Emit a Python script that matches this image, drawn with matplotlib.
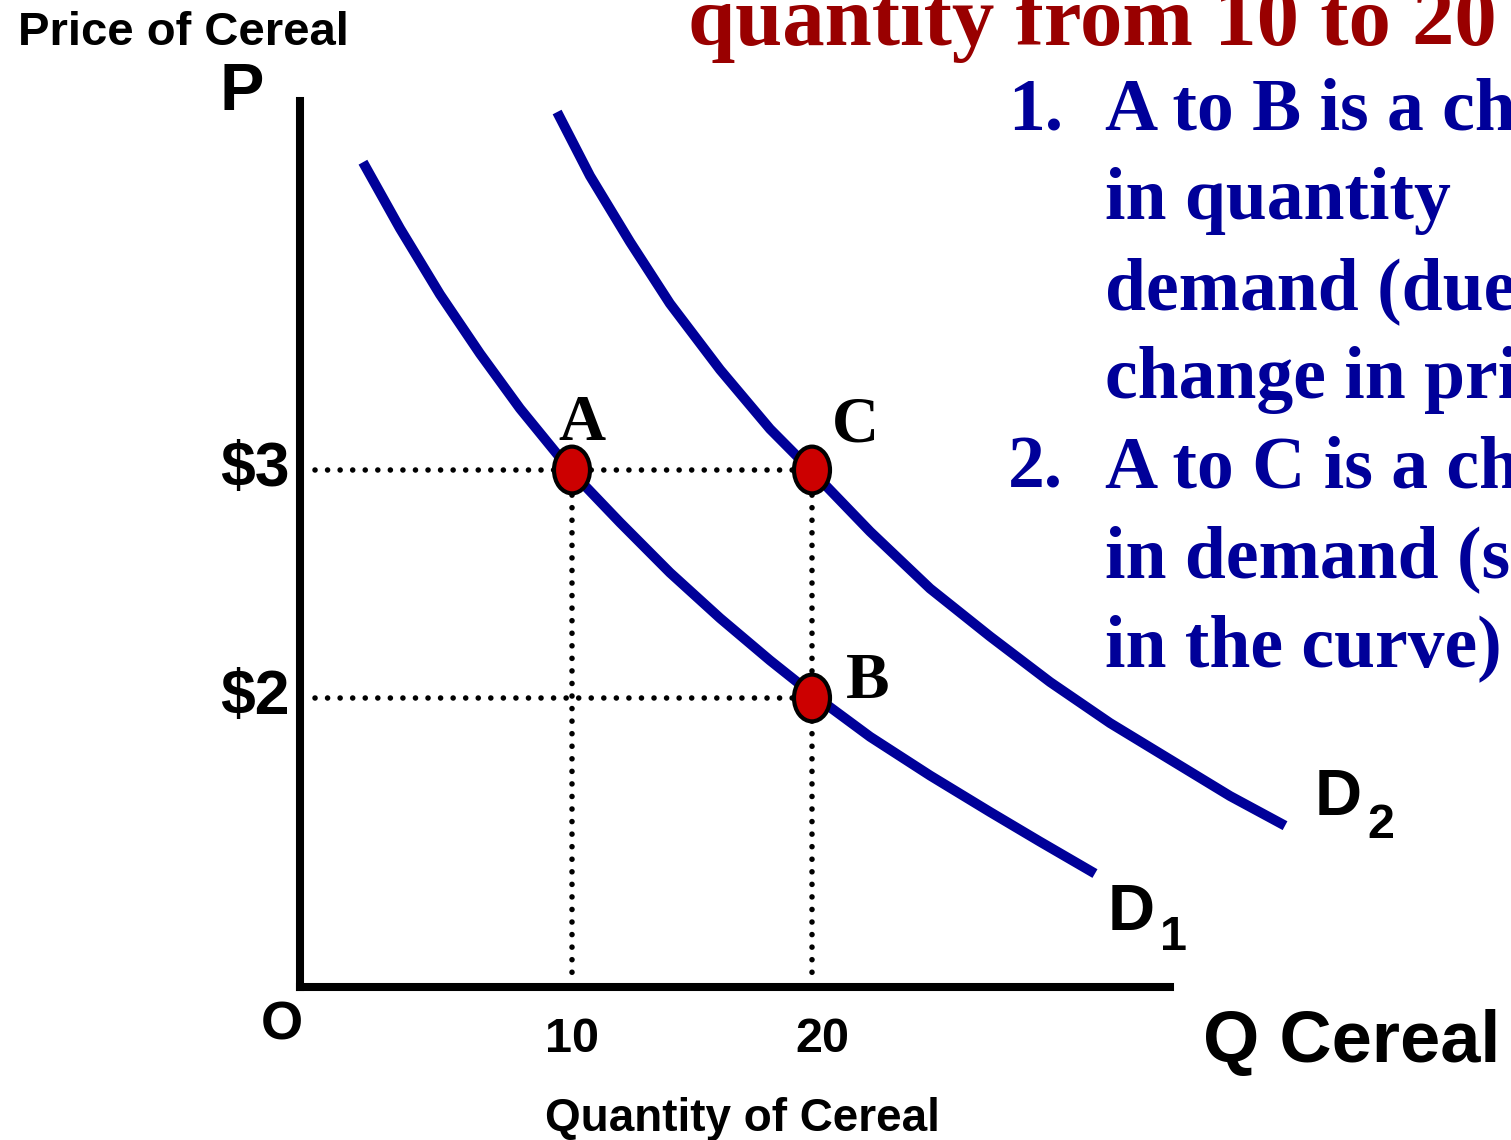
import matplotlib
matplotlib.use("Agg")
import matplotlib.pyplot as plt
from matplotlib.patches import Ellipse

# demand curves (quantity, price)
d1_q = [1.29, 2.83, 4.5, 6.17, 7.83, 10.0, 12.0, 14.08, 16.17, 18.25, 20.04,
        22.42, 24.92, 27.42, 29.5, 31.79]
d1_p = [4.35, 4.06, 3.77, 3.51, 3.27, 2.99, 2.77, 2.55, 2.35, 2.165, 2.015,
        1.83, 1.66, 1.50, 1.37, 1.23]
d2_q = [9.38, 10.75, 12.42, 14.08, 16.17, 18.25, 20.04, 22.42, 24.92, 27.42,
        29.92, 32.42, 34.92, 37.42, 39.71]
d2_p = [4.57, 4.29, 4.0, 3.73, 3.44, 3.18, 2.99, 2.73, 2.48, 2.27,
        2.07, 1.89, 1.73, 1.57, 1.44]

point_names = ["A", "C", "B"]
point_q = [10, 20, 20]
point_p = [3, 3, 2]

price_ticks = [3, 2]
price_labels = ["$3", "$2"]
qty_ticks = [10, 20]
qty_labels = ["10", "20"]

notes = [
    ("1.", "A to B is a change"),
    ("", "in quantity"),
    ("", "demand (due to"),
    ("", "change in price)"),
    ("2.", "A to C is a change"),
    ("", "in demand (shift"),
    ("", "in the curve)"),
]

BLUE = "#000099"
RED_DOT = "#cc0000"
TITLE_RED = "#990000"
SANS = "Liberation Sans"
SERIF = "Liberation Serif"

W, H = 1511, 1140
fig = plt.figure(figsize=(W / 100, H / 100), dpi=100)
ax = fig.add_axes([0, 0, 1, 1])
ax.set_xlim(-13.833, 49.125)
ax.set_ylim(0.0614, 5.0614)
ax.axis("off")


def px(x, y):
    # figure pixel position (from top-left) to figure fraction
    return x / W, 1 - y / H


# axes lines
q0, p0 = -1.333, 0.7325
ax.plot([q0, q0], [p0, 4.62], color="black", lw=5.8, solid_capstyle="projecting", zorder=3)
ax.plot([q0, 34.9], [p0, p0], color="black", lw=5.8, solid_capstyle="projecting", zorder=3)

# dotted guides
dot_style = dict(color="black", lw=4.0, linestyle=(0, (0.01, 2.25)),
                 dash_capstyle="round", zorder=2)
for p in price_ticks:
    q_end = max(q for q, pp in zip(point_q, point_p) if pp == p)
    ax.plot([-0.7, q_end], [p, p], **dot_style)
for q in qty_ticks:
    p_top = max(p for qq, p in zip(point_q, point_p) if qq == q)
    ax.plot([q, q], [p_top, p0 + 0.02], **dot_style)

# demand curves
ax.plot(d1_q, d1_p, color=BLUE, lw=7.2, solid_capstyle="butt",
        solid_joinstyle="round", zorder=4)
ax.plot(d2_q, d2_p, color=BLUE, lw=7.2, solid_capstyle="butt",
        solid_joinstyle="round", zorder=4)

# points
for q, p in zip(point_q, point_p):
    ax.add_patch(Ellipse((q, p), 1.5, 0.205, facecolor=RED_DOT, edgecolor="black",
                         lw=3.0, zorder=5))

# point letters
letter_pos = {"A": (582, 440), "C": (855, 442), "B": (868, 698)}
for name in point_names:
    fig.text(*px(*letter_pos[name]), name, family=SERIF, weight="bold", size=47,
             ha="center", va="baseline", color="black")

# tick labels
for p, lab in zip(price_ticks, price_labels):
    ax.text(-1.75, p, lab, family=SANS, weight="bold", size=45, ha="right",
            va="center", color="black")
for q, lab in zip(qty_ticks, qty_labels):
    ax.text(q + (0 if q == 10 else 0.42), 0.447, lab, family=SANS,
            weight="bold", size=35, ha="center", va="baseline")

fig.text(*px(282, 1040), "O", family=SANS, weight="bold", size=39, ha="center",
         va="baseline")

# axis titles
fig.text(*px(18, 45), "Price of Cereal", family=SANS, weight="bold", size=34,
         ha="left", va="baseline")
fig.text(*px(220, 110), "P", family=SANS, weight="bold", size=48, ha="left",
         va="baseline")
fig.text(*px(742, 1131), "Quantity of Cereal", family=SANS, weight="bold", size=33,
         ha="center", va="baseline")
fig.text(*px(1203, 1062), "Q Cereal", family=SANS, weight="bold", size=52,
         ha="left", va="baseline")

# curve labels
fig.text(*px(1108, 930), "D", family=SANS, weight="bold", size=47, va="baseline")
fig.text(*px(1160, 950), "1", family=SANS, weight="bold", size=35, va="baseline")
fig.text(*px(1315, 815), "D", family=SANS, weight="bold", size=47, va="baseline")
fig.text(*px(1367, 838), "2", family=SANS, weight="bold", size=35, va="baseline")

# heading and notes (cut off at the right edge as in the slide)
fig.text(*px(688, 45), "quantity from 10 to 20", family=SERIF, weight="bold",
         size=61, color=TITLE_RED, ha="left", va="baseline")
for i, (num, line) in enumerate(notes):
    y = 130 + i * 89.4
    if num:
        fig.text(*px(1008, y), num, family=SERIF, weight="bold", size=53,
                 color=BLUE, va="baseline")
    fig.text(*px(1105, y), line, family=SERIF, weight="bold", size=53,
             color=BLUE, va="baseline")

fig.savefig("out.png", dpi=100)
